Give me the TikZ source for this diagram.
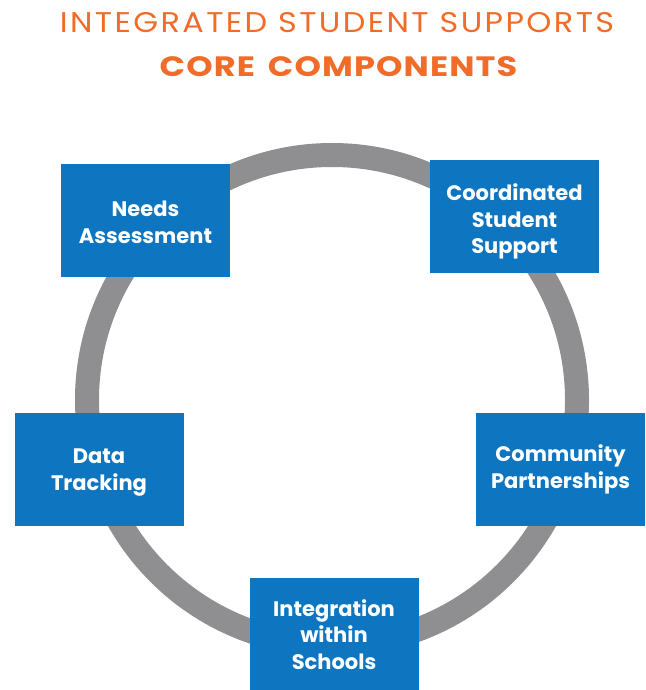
\documentclass[tikz,border=0pt]{standalone}
\usepackage{fontspec}
\setmainfont{Poppins}
\definecolor{boxblue}{RGB}{14,117,193}
\definecolor{ringgray}{RGB}{143,143,145}
\definecolor{titleorange}{RGB}{240,108,40}
\newcommand\lowerby[1]{\rule{0pt}{#1}}
\tikzset{
  px/.style={x=1pt,y=-1pt},
  compbox/.style={fill=boxblue,text=white,align=center,inner sep=0pt,
    minimum width=169pt,minimum height=113pt,text depth=0pt,
    font=\fontsize{21}{26.5}\selectfont\bfseries},
  ring/.style={draw=ringgray,line width=24pt},
  titleA/.style={text=titleorange,inner sep=0pt,
    font=\fontsize{28.5}{30}\selectfont\addfontfeatures{LetterSpace=7.5}},
  titleB/.style={text=titleorange,inner sep=0pt,
    font=\fontsize{28}{30}\selectfont\bfseries\addfontfeatures{LetterSpace=3.3}}
}
\begin{document}
\begin{tikzpicture}[px]
\useasboundingbox (0,0) rectangle (645,690);
\node[titleA] (t1) at (337,23) {\scalebox{1.12}[1]{INTEGRATED STUDENT SUPPORTS}};
\node[titleB] (t2) at (338.5,67) {\scalebox{1.2}[1]{CORE\hspace{0.38em}COMPONENTS}};
\coordinate (c) at (332,400);
\draw[ring] (c) circle[radius=245pt];
\node[compbox] (needs) at (145.5,220) {\lowerby{20pt}Needs\\Assessment};
\node[compbox] (coord) at (514.5,216.5) {\lowerby{21.5pt}Coordinated\\Student\\Support};
\node[compbox] (data) at (99,469.5) {Data\\Tracking};
\node[compbox,text depth=5.4pt] (comm) at (560.5,469.5) {Community\\Partnerships};
\node[compbox] (integ) at (334,634.5) {Integration\\within\\Schools};
\end{tikzpicture}
\end{document}
